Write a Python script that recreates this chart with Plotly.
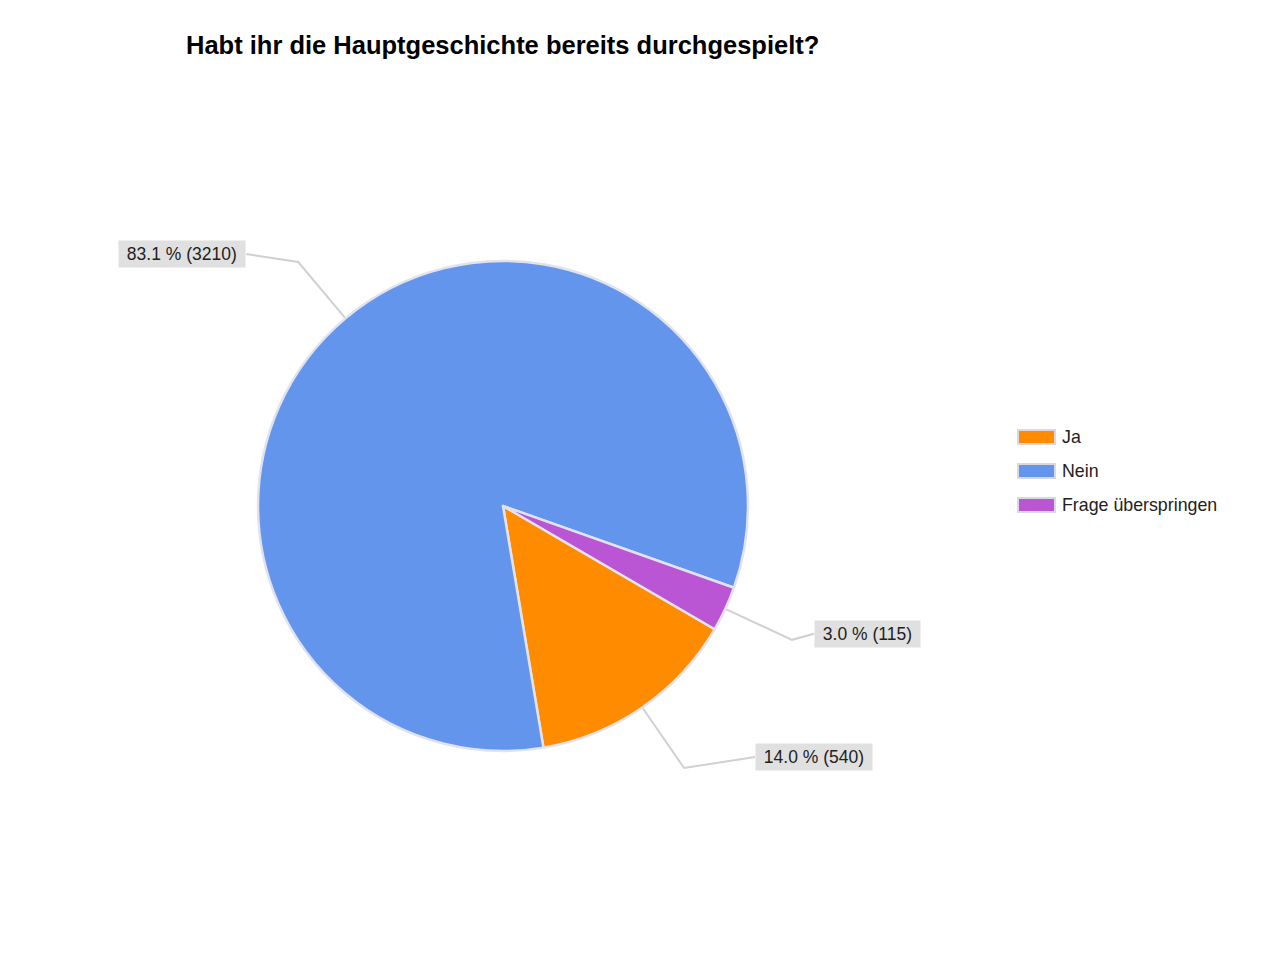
import math
import plotly.graph_objects as go

# ---- data ----
labels = ["Ja", "Nein", "Frage überspringen"]
values = [540, 3210, 115]
percent_text = ["14.0 %", "83.1 %", "3.0 %"]
colors = ["#FF8C00", "#6495ED", "#BA55D3"]
title_text = "Habt ihr die Hauptgeschichte bereits durchgespielt?"

# ---- layout constants (pixels) ----
W, H = 1280, 960
OFF = 8                      # page body margin
CX, CY, R = 503, 506, 245
START_ANGLE = 120.2          # clockwise from 12 o'clock, start of first slice
ELBOW = 1.30                 # elbow radius factor for leader lines
label_gap = [71, 52, 22]     # horizontal distance from elbow to label box
label_dy = [-11, -8, -6]     # vertical shift of label relative to elbow
FONT = "Liberation Sans, Arial, sans-serif"


def px(x):
    return (x - OFF) / W


def py(y):
    return 1 - (y - OFF) / H


fig = go.Figure()
fig.add_trace(go.Pie(
    labels=labels,
    values=values,
    sort=False,
    direction="clockwise",
    rotation=START_ANGLE,
    marker=dict(colors=colors, line=dict(color="#e2e2ec", width=2.5)),
    textinfo="none",
    hoverinfo="label+value+percent",
    showlegend=False,
    domain=dict(x=[px(CX - R), px(CX + R)], y=[py(CY + R), py(CY - R)]),
))

shapes = []
annotations = []
total = sum(values)
acc = 0.0
for i, v in enumerate(values):
    mid = START_ANGLE + 360.0 * (acc + v / 2.0) / total
    acc += v
    a = math.radians(mid)
    sx, sy = CX + R * math.sin(a), CY - R * math.cos(a)
    ex, ey = CX + R * ELBOW * math.sin(a), CY - R * ELBOW * math.cos(a)
    right = math.sin(a) >= 0
    lx = ex + label_gap[i] if right else ex - label_gap[i]
    ly = ey + label_dy[i]
    path = (f"M {px(sx)},{py(sy)} L {px(ex)},{py(ey)} L {px(lx)},{py(ly)}")
    shapes.append(dict(type="path", xref="paper", yref="paper", path=path,
                       line=dict(color="#d0d0d0", width=2), layer="below"))
    annotations.append(dict(
        x=px(lx), y=py(ly), xref="paper", yref="paper",
        xanchor="left" if right else "right", yanchor="middle",
        text=f"&nbsp;{percent_text[i]} ({values[i]})&nbsp;", showarrow=False,
        font=dict(family=FONT, size=17.5, color="#222222"),
        bgcolor="#e0e0e0", borderpad=3,
    ))

# ---- custom legend ----
LEG_X, LEG_Y0, LEG_DY = 1018, 437, 34
for i, lab in enumerate(labels):
    y = LEG_Y0 + i * LEG_DY
    shapes.append(dict(type="rect", xref="paper", yref="paper",
                       x0=px(LEG_X), x1=px(LEG_X + 37), y0=py(y - 7), y1=py(y + 7),
                       fillcolor=colors[i], line=dict(color="#d8d8e0", width=2)))
    annotations.append(dict(
        x=px(LEG_X + 42), y=py(y), xref="paper", yref="paper",
        xanchor="left", yanchor="middle", text=lab, showarrow=False,
        font=dict(family=FONT, size=17.8, color="#222222"),
    ))

fig.update_layout(
    width=W, height=H,
    margin=dict(l=0, r=0, t=0, b=0),
    paper_bgcolor="white", plot_bgcolor="white",
    title=dict(text=f"<b>{title_text}</b>", x=px(186), xanchor="left",
               y=py(45), yanchor="middle",
               font=dict(family=FONT, size=25.5, color="#000000")),
    shapes=shapes,
    annotations=annotations,
)

fig.write_html("out.html")
